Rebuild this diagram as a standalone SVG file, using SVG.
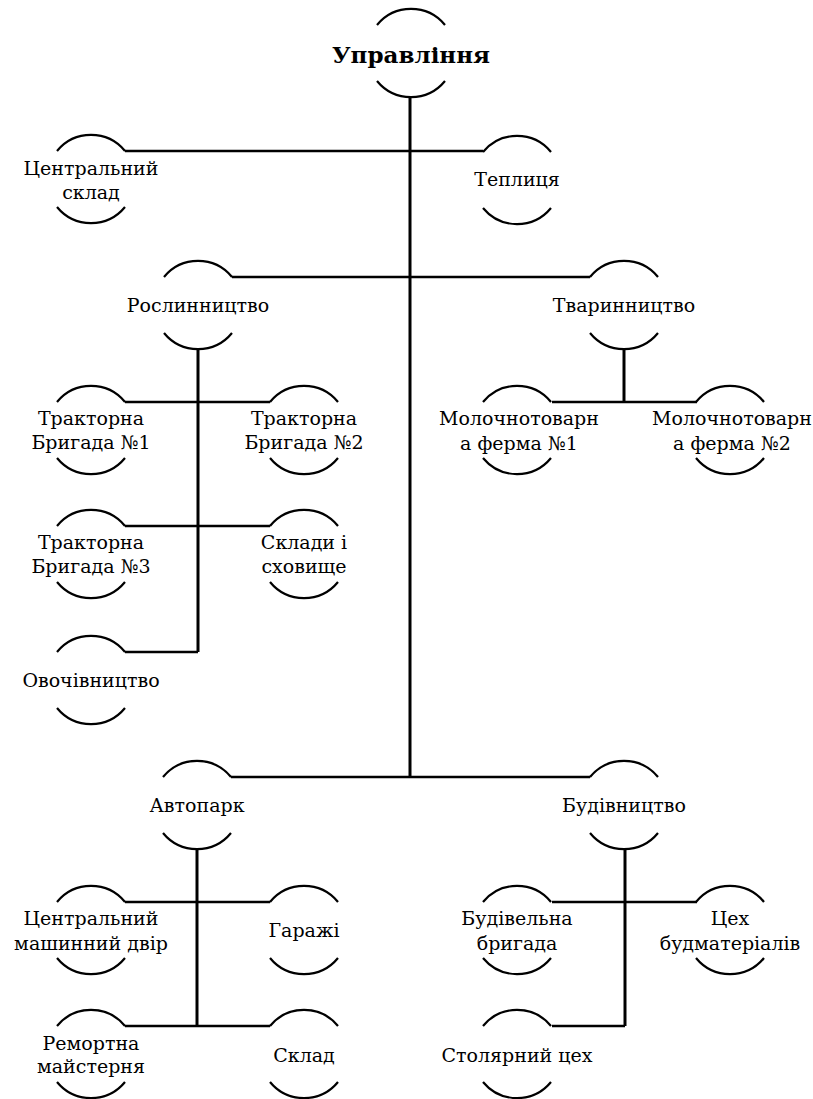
<svg xmlns="http://www.w3.org/2000/svg" width="813" height="1099" viewBox="0 0 813 1099">
<style>
.arc{fill:none;stroke:#000;stroke-width:2.2}
.v{stroke:#000;stroke-width:3;fill:none}
.h{stroke:#000;stroke-width:2.5;fill:none}
.t{font-family:'DejaVu Serif','Liberation Serif',serif;font-size:19px;fill:#000;text-anchor:middle}
.b{font-weight:bold;font-size:23px}
</style>
<defs>
<path id="cap" class="arc" d="M-34,-28 A44,44 0 0 1 34,-28 M-34,28 A44,44 0 0 0 34,28"/>
</defs>
<g id="connectors">
<path class="v" d="M410,97 V777"/>
<path class="h" d="M125,151 H483"/>
<path class="h" d="M232,277 H590"/>
<path class="h" d="M231,777 H590"/>
<path class="v" d="M198,349 V652"/>
<path class="h" d="M125,402 H270"/>
<path class="h" d="M125,526 H270"/>
<path class="h" d="M125,652 H198"/>
<path class="v" d="M624,349 V402"/>
<path class="h" d="M552,402 H697"/>
<path class="v" d="M197,849 V1026"/>
<path class="h" d="M125,902 H270"/>
<path class="h" d="M125,1026 H270"/>
<path class="v" d="M625,849 V1026"/>
<path class="h" d="M552,902 H697"/>
<path class="h" d="M552,1026 H625"/>
</g>
<g class="t">
<g id="n-upravlinnia"><use href="#cap" x="411" y="53"/><text class="b" x="411" y="63">Управління</text></g>
<g id="n-tsentr-sklad"><use href="#cap" x="91" y="179"/><text x="91" y="175">Центральний</text><text x="91" y="199">склад</text></g>
<g id="n-teplytsia"><use href="#cap" x="517" y="180"/><text x="517" y="186">Теплиця</text></g>
<g id="n-roslynnytstvo"><use href="#cap" x="198" y="305"/><text x="198" y="312">Рослинництво</text></g>
<g id="n-tvarynnytstvo"><use href="#cap" x="624" y="305"/><text x="624" y="312">Тваринництво</text></g>
<g id="n-moloch1"><use href="#cap" x="517" y="430"/><text x="519" y="425">Молочнотоварн</text><text x="519" y="450">а ферма №1</text></g>
<g id="n-moloch2"><use href="#cap" x="730" y="430"/><text x="732" y="425">Молочнотоварн</text><text x="732" y="450">а ферма №2</text></g>
<g id="n-tb1"><use href="#cap" x="91" y="430"/><text x="91" y="425">Тракторна</text><text x="91" y="449">Бригада №1</text></g>
<g id="n-tb2"><use href="#cap" x="304" y="430"/><text x="304" y="425">Тракторна</text><text x="304" y="449">Бригада №2</text></g>
<g id="n-tb3"><use href="#cap" x="91" y="554"/><text x="91" y="549">Тракторна</text><text x="91" y="573">Бригада №3</text></g>
<g id="n-sklady"><use href="#cap" x="304" y="554"/><text x="304" y="549">Склади і</text><text x="304" y="573">сховище</text></g>
<g id="n-ovochivnytstvo"><use href="#cap" x="91" y="680"/><text x="91" y="687">Овочівництво</text></g>
<g id="n-avtopark"><use href="#cap" x="197" y="805"/><text x="197" y="812">Автопарк</text></g>
<g id="n-budivnytstvo"><use href="#cap" x="624" y="805"/><text x="624" y="812">Будівництво</text></g>
<g id="n-tsmd"><use href="#cap" x="91" y="930"/><text x="91" y="925">Центральний</text><text x="91" y="950">машинний двір</text></g>
<g id="n-garazhi"><use href="#cap" x="304" y="930"/><text x="304" y="937">Гаражі</text></g>
<g id="n-bud-bryhada"><use href="#cap" x="517" y="930"/><text x="517" y="925">Будівельна</text><text x="517" y="950">бригада</text></g>
<g id="n-tsekh-bud"><use href="#cap" x="730" y="930"/><text x="730" y="925">Цех</text><text x="730" y="950">будматеріалів</text></g>
<g id="n-remortna"><use href="#cap" x="91" y="1054"/><text x="91" y="1050">Ремортна</text><text x="91" y="1073">майстерня</text></g>
<g id="n-sklad"><use href="#cap" x="304" y="1054"/><text x="304" y="1062">Склад</text></g>
<g id="n-stoliarnyi"><use href="#cap" x="517" y="1054"/><text x="517" y="1062">Столярний цех</text></g>
</g>
</svg>
